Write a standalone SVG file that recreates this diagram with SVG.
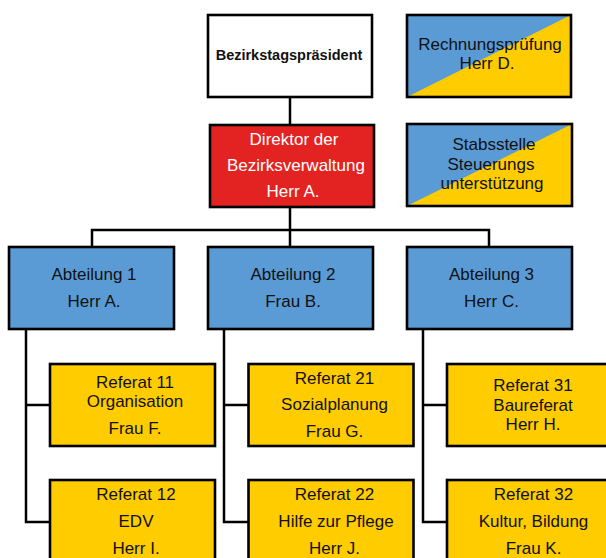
<svg xmlns="http://www.w3.org/2000/svg" width="606" height="558" viewBox="0 0 606 558">
<style>
.box{stroke:#000;stroke-width:2.6}
.blue{fill:#5B9BD5}
.yel{fill:#FFCC00}
.red{fill:#E32322}
.wht{fill:#fff}
.t{font-family:"Liberation Sans",Arial,sans-serif;font-size:17px;fill:#111;text-anchor:middle}
.tw{fill:#fff}
.b{font-weight:bold;font-size:14.5px}
.ln{stroke:#000;stroke-width:2.5;fill:none}
</style>
<rect width="606" height="558" fill="#fff"/>
<g id="connectors">
<path class="ln" d="M290,97V125"/>
<path class="ln" d="M290,207V230M92,247V230H489V247M290,230V247"/>
<path class="ln" d="M26,329V522H50M26,405H50"/>
<path class="ln" d="M224,329V522H248M224,405H248"/>
<path class="ln" d="M423,329V522H447M423,405H447"/>
</g>
<g id="praesident">
<rect class="box wht" x="208" y="15" width="164" height="82"/>
<text class="t b" x="289" y="60">Bezirkstagspräsident</text>
</g>
<g id="rechnungspruefung">
<rect class="yel" x="407" y="15" width="164" height="82"/>
<polygon class="blue" points="407,15 571,15 407,97"/>
<rect class="box" fill="none" x="407" y="15" width="164" height="82"/>
<text class="t" x="490" y="50">Rechnungsprüfung</text>
<text class="t" x="487" y="69">Herr D.</text>
</g>
<g id="direktor">
<rect class="box red" x="210" y="125" width="164" height="82"/>
<text class="t tw" x="294" y="145">Direktor der</text>
<text class="t tw" x="296" y="171">Bezirksverwaltung</text>
<text class="t tw" x="293" y="197">Herr A.</text>
</g>
<g id="stabsstelle">
<rect class="yel" x="407" y="124" width="165" height="82"/>
<polygon class="blue" points="407,124 572,124 407,206"/>
<rect class="box" fill="none" x="407" y="124" width="165" height="82"/>
<text class="t" x="494" y="150">Stabsstelle</text>
<text class="t" x="491" y="169.5">Steuerungs</text>
<text class="t" x="492" y="189">unterstützung</text>
</g>
<g id="abteilung1">
<rect class="box blue" x="9" y="247" width="165" height="82"/>
<text class="t" x="94" y="280">Abteilung 1</text>
<text class="t" x="94" y="307">Herr A.</text>
</g>
<g id="abteilung2">
<rect class="box blue" x="208" y="247" width="165" height="82"/>
<text class="t" x="293" y="280">Abteilung 2</text>
<text class="t" x="293" y="307">Frau B.</text>
</g>
<g id="abteilung3">
<rect class="box blue" x="407" y="247" width="165" height="82"/>
<text class="t" x="491.5" y="280">Abteilung 3</text>
<text class="t" x="491.5" y="307">Herr C.</text>
</g>
<g id="referat11">
<rect class="box yel" x="50" y="364" width="165" height="82"/>
<text class="t" x="135" y="388">Referat 11</text>
<text class="t" x="135" y="407">Organisation</text>
<text class="t" x="135" y="434">Frau F.</text>
</g>
<g id="referat12">
<rect class="box yel" x="50" y="480" width="165" height="82"/>
<text class="t" x="136" y="500">Referat 12</text>
<text class="t" x="136" y="527">EDV</text>
<text class="t" x="136" y="553.5">Herr I.</text>
</g>
<g id="referat21">
<rect class="box yel" x="248.5" y="364" width="165" height="82"/>
<text class="t" x="334.5" y="383.5">Referat 21</text>
<text class="t" x="334.5" y="410">Sozialplanung</text>
<text class="t" x="334.5" y="437">Frau G.</text>
</g>
<g id="referat22">
<rect class="box yel" x="248.5" y="480" width="165" height="82"/>
<text class="t" x="334.5" y="500">Referat 22</text>
<text class="t" x="336" y="527">Hilfe zur Pflege</text>
<text class="t" x="334.5" y="553.5">Herr J.</text>
</g>
<g id="referat31">
<rect class="box yel" x="447" y="364" width="165" height="82"/>
<text class="t" x="533" y="391">Referat 31</text>
<text class="t" x="533" y="410.5">Baureferat</text>
<text class="t" x="533" y="429.5">Herr H.</text>
</g>
<g id="referat32">
<rect class="box yel" x="447" y="480" width="165" height="82"/>
<text class="t" x="533.5" y="500">Referat 32</text>
<text class="t" x="533.5" y="527">Kultur, Bildung</text>
<text class="t" x="533.5" y="553.5">Frau K.</text>
</g>
</svg>
